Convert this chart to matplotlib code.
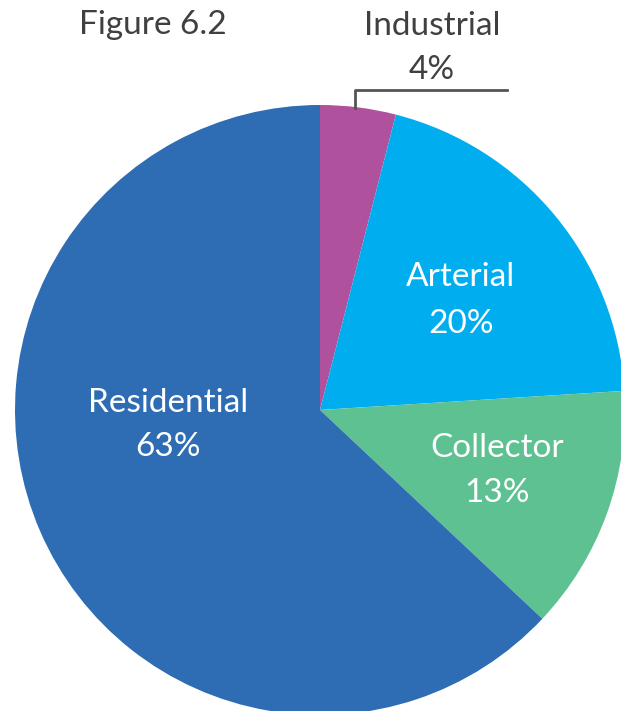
import matplotlib.pyplot as plt

labels = ["Industrial", "Arterial", "Collector", "Residential"]
shares = [4, 20, 13, 63]
colors = ["#B0519E", "#00AEEF", "#5EC191", "#2E6DB4"]

plt.rcParams["font.family"] = ["Lato", "DejaVu Sans"]

W, H = 621, 711
cx, cy, r = 320, 410, 305  # pie centre and radius in pixels


def px(x, y):
    # pixel position (from top-left) -> data coords
    return (x - cx) / r, (cy - y) / r


fig = plt.figure(figsize=(W / 100, H / 100), dpi=100)
ax = fig.add_axes([0, 0, 1, 1])
ax.pie(shares, colors=colors, startangle=90, counterclock=False,
       wedgeprops=dict(linewidth=0))
ax.set_aspect("auto")
ax.set_xlim(px(0, 0)[0], px(W, 0)[0])
ax.set_ylim(px(0, H)[1], px(0, 0)[1])
ax.axis("off")

fs = 24
dark = "#404040"

def put(x, y, s, color):
    ax.text(*px(x, y + 3), s, ha="center", va="center", fontsize=fs, color=color)

put(153, 22, "Figure 6.2", dark)
put(432, 23, "Industrial", dark)
put(432, 67, "4%", dark)
put(461, 274, "Arterial", "white")
put(461, 321, "20%", "white")
put(168, 400, "Residential", "white")
put(168, 444, "63%", "white")
put(497, 445, "Collector", "white")
put(497, 490, "13%", "white")

# leader line for the small slice
xs = [px(355, 108)[0], px(355, 90)[0], px(507, 90)[0]]
ys = [px(355, 108)[1], px(355, 90)[1], px(507, 90)[1]]
ax.plot(xs, ys, color="#555555", lw=2)

fig.savefig("out.png", dpi=100)
